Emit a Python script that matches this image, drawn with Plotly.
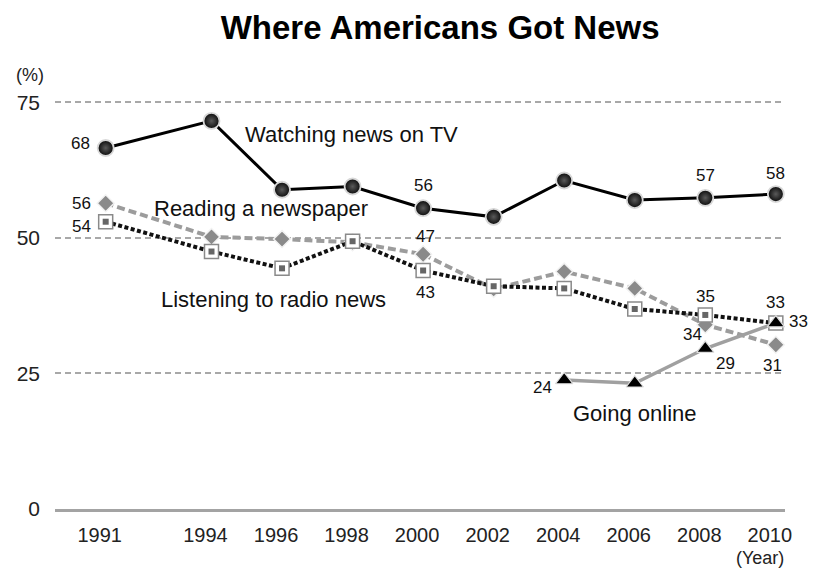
import plotly.graph_objects as go

years = [1991, 1994, 1996, 1998, 2000, 2002, 2004, 2006, 2008, 2010]
tv = [66.6, 71.6, 58.9, 59.5, 55.5, 53.9, 60.6, 57.0, 57.4, 58.1]
newspaper = [56.4, 50.2, 49.8, 49.2, 47.0, 40.6, 43.8, 40.7, 34.0, 30.3]
radio = [53.0, 47.5, 44.4, 49.4, 44.0, 41.1, 40.7, 36.9, 35.8, 34.3]
online_years = [2004, 2006, 2008, 2010]
online = [23.8, 23.2, 29.6, 34.3]

# data labels: (year, text, xshift, yshift)
tv_labels = [(1991, "68", -25, 5), (2000, "56", 0, 23), (2008, "57", 0, 22), (2010, "58", 0, 21)]
news_labels = [(1991, "56", -24, 0), (2000, "47", 2, 18), (2008, "34", -13, -10), (2010, "31", -3, -21)]
radio_labels = [(1991, "54", -24, -5), (2000, "43", 2, -22), (2008, "35", 0, 18), (2010, "33", 0, 21)]
online_labels = [(2004, "24", -22, -8), (2008, "29", 20, -15), (2010, "33", 23, 2)]

series_names = [
    ("Watching news on TV", 1997.98, 69.0),
    ("Reading a newspaper", 1995.4, 55.35),
    ("Listening to radio news", 1995.77, 38.6),
    ("Going online", 2006.0, 17.7),
]

title_text = "Where Americans Got News"
ytick_vals = [0, 25, 50, 75]
FONT = "Liberation Sans, Arial, sans-serif"

fig = go.Figure()

fig.add_trace(go.Scatter(
    x=years, y=newspaper, mode="lines+markers",
    line=dict(color="#9c9c9c", width=4, dash="8px,4px"),
    marker=dict(symbol="diamond", size=13, color="#8a8a8a",
                line=dict(color="#f2f2f2", width=1.5)),
    hoverinfo="skip"))

fig.add_trace(go.Scatter(
    x=years, y=radio, mode="lines+markers",
    line=dict(color="#111111", width=4, dash="4px,2.5px"),
    marker=dict(symbol="square", size=14, color="#ffffff",
                line=dict(color="#8a8a8a", width=1.5)),
    hoverinfo="skip"))
fig.add_trace(go.Scatter(
    x=years, y=radio, mode="markers",
    marker=dict(symbol="square", size=6, color="#666666"),
    hoverinfo="skip"))

fig.add_trace(go.Scatter(
    x=online_years, y=online, mode="lines+markers",
    line=dict(color="#a0a0a0", width=3.5),
    marker=dict(symbol="triangle-up", size=15, color="#000000",
                line=dict(color="#dddddd", width=1.2)),
    hoverinfo="skip"))

fig.add_trace(go.Scatter(
    x=years, y=tv, mode="lines+markers",
    line=dict(color="#000000", width=3),
    marker=dict(symbol="circle", size=16, color="#0a0a0a",
                gradient=dict(type="radial", color="#5a5a5a"),
                line=dict(color="#d8d8d8", width=1.8)),
    hoverinfo="skip"))

annotations = []
def add_labels(xs, ys, labels):
    lookup = dict(zip(xs, ys))
    for yr, txt, dx, dy in labels:
        annotations.append(dict(x=yr, y=lookup[yr], xref="x", yref="y", text=txt,
                                showarrow=False, xshift=dx, yshift=dy,
                                xanchor="center", yanchor="middle",
                                font=dict(family=FONT, size=17, color="#111111")))

add_labels(years, tv, tv_labels)
add_labels(years, newspaper, news_labels)
add_labels(years, radio, radio_labels)
add_labels(online_years, online, online_labels)

for txt, xx, yy in series_names:
    annotations.append(dict(x=xx, y=yy, xref="x", yref="y", text=txt, showarrow=False,
                            xanchor="center", yanchor="middle",
                            font=dict(family=FONT, size=22, color="#111111")))

W, H = 832, 572
ml, mr, mt, mb = 55, 47, 90, 63
pw, ph = W - ml - mr, H - mt - mb

def px_to_paper(px, py):
    return (px - ml) / pw, (H - mb - py) / ph

for txt, px, py in [("(%)", 30, 75), ("(Year)", 760, 558)]:
    xp, yp = px_to_paper(px, py)
    annotations.append(dict(x=xp, y=yp, xref="paper", yref="paper", text=txt, showarrow=False,
                            xanchor="center", yanchor="middle",
                            font=dict(family=FONT, size=18, color="#222222")))

fig.update_layout(
    width=W, height=H,
    margin=dict(l=ml, r=mr, t=mt, b=mb),
    paper_bgcolor="white", plot_bgcolor="white",
    showlegend=False,
    title=dict(text=title_text, x=0.529, xanchor="center", y=0.952, yanchor="middle",
               font=dict(family=FONT, size=33, color="#000000", weight="bold")),
    annotations=annotations,
    xaxis=dict(range=[1989.563, 2010.26], tickvals=years, ticktext=[str(y) for y in years],
               showgrid=False, zeroline=False, showline=True, linecolor="#a3a3a3", linewidth=3,
               ticks="", ticklabelstandoff=6, ticklabelshift=-6,
               tickfont=dict(family=FONT, size=20, color="#222222")),
    yaxis=dict(range=[0, 77.3], tickvals=ytick_vals, showgrid=True, gridcolor="#a8a8a8",
               gridwidth=1.5, griddash="6px,4px", zeroline=False, showline=False,
               ticks="", ticklabelstandoff=14,
               tickfont=dict(family=FONT, size=21, color="#222222")),
)

fig.write_html("out.html")
